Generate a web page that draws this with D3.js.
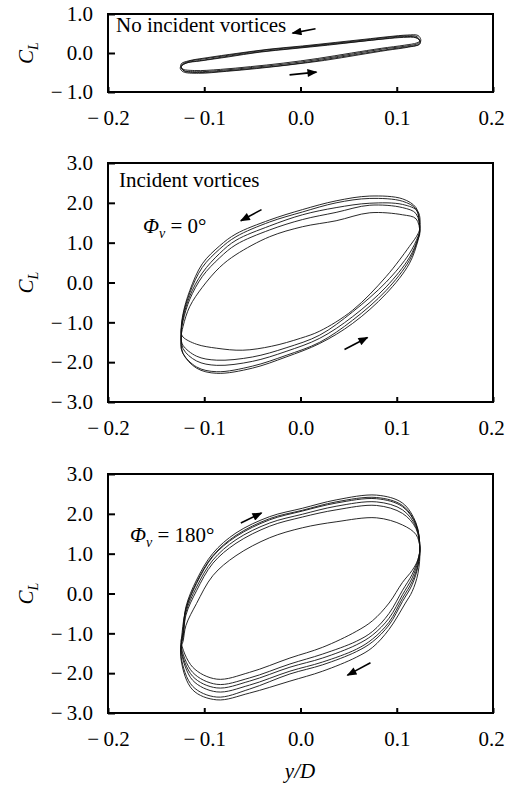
<!DOCTYPE html>
<html>
<head>
<meta charset="utf-8">
<script src="https://cdn.jsdelivr.net/npm/d3@7"></script>
<style>
  body { margin: 0; background: #fff; }
  text { font-family: "Liberation Serif", "Times New Roman", serif; fill: #000; }
</style>
</head>
<body>
<svg id="fig" width="505" height="786"></svg>
<script>
// axis ticks
const xTicks = [-0.2, -0.1, 0.0, 0.1, 0.2];
const yTicksTop = [-1, 0, 1];
const yTicksBig = [-3, -2, -1, 0, 1, 2, 3];

// [y/D, C_L] traces, one array per cycle
const loopsTop = [
  [[0.124,0.32],[0.121,0.42],[0.11,0.44],[0.09,0.4],[0.065,0.33],[0.035,0.25],[0.0,0.16],[-0.035,0.08],[-0.07,-0.04],[-0.1,-0.15],[-0.117,-0.22],[-0.124,-0.32],[-0.122,-0.44],[-0.108,-0.48],[-0.08,-0.44],[-0.05,-0.37],[-0.015,-0.28],[0.02,-0.16],[0.055,-0.02],[0.085,0.1],[0.11,0.18],[0.122,0.24]],
  [[0.124,0.3],[0.12,0.4],[0.108,0.42],[0.088,0.37],[0.062,0.3],[0.03,0.22],[-0.005,0.13],[-0.04,0.04],[-0.072,-0.07],[-0.1,-0.18],[-0.118,-0.25],[-0.124,-0.35],[-0.121,-0.46],[-0.105,-0.5],[-0.078,-0.46],[-0.048,-0.39],[-0.012,-0.3],[0.022,-0.18],[0.057,-0.04],[0.088,0.08],[0.111,0.16],[0.123,0.22]],
  [[0.125,0.34],[0.122,0.45],[0.111,0.46],[0.092,0.42],[0.066,0.35],[0.036,0.27],[0.002,0.18],[-0.032,0.1],[-0.066,-0.01],[-0.097,-0.12],[-0.116,-0.2],[-0.124,-0.28],[-0.123,-0.4],[-0.11,-0.45],[-0.083,-0.42],[-0.052,-0.35],[-0.018,-0.26],[0.018,-0.14],[0.053,0.0],[0.084,0.12],[0.108,0.2],[0.121,0.26]],
  [[0.124,0.31],[0.12,0.39],[0.107,0.4],[0.087,0.36],[0.06,0.29],[0.028,0.2],[-0.008,0.11],[-0.043,0.02],[-0.075,-0.1],[-0.103,-0.2],[-0.12,-0.27],[-0.125,-0.38],[-0.122,-0.48],[-0.106,-0.52],[-0.077,-0.47],[-0.046,-0.4],[-0.01,-0.3],[0.025,-0.19],[0.06,-0.05],[0.09,0.07],[0.112,0.15],[0.124,0.23]]
];

const loopsMid = [
  [[0.124,1.3],[0.123,1.6],[0.12,1.88],[0.106,2.1],[0.072,2.17],[0.037,2.05],[0.002,1.83],[-0.032,1.57],[-0.067,1.22],[-0.084,0.92],[-0.102,0.47],[-0.115,-0.2],[-0.122,-0.78],[-0.124,-1.2],
   [-0.122,-1.66],[-0.108,-1.97],[-0.087,-2.08],[-0.05,-1.98],[-0.015,-1.73],[0.02,-1.4],[0.054,-0.86],[0.089,-0.11],[0.113,0.62],[0.122,1.11]],
  [[0.124,1.35],[0.122,1.78],[0.106,1.96],[0.072,1.99],[0.037,1.88],[0.002,1.7],[-0.032,1.42],[-0.067,1.06],[-0.084,0.73],[-0.102,0.24],[-0.115,-0.34],[-0.122,-0.9],[-0.124,-1.35],
   [-0.123,-1.74],[-0.108,-2.12],[-0.087,-2.24],[-0.05,-2.1],[-0.015,-1.83],[0.02,-1.5],[0.054,-0.95],[0.089,-0.2],[0.113,0.55],[0.122,1.08]],
  [[0.124,1.25],[0.12,1.6],[0.106,1.7],[0.072,1.75],[0.037,1.55],[0.002,1.4],[-0.032,1.15],[-0.067,0.7],[-0.084,0.38],[-0.102,-0.12],[-0.115,-0.6],[-0.122,-1.1],[-0.124,-1.4],
   [-0.122,-1.58],[-0.108,-1.85],[-0.087,-1.95],[-0.05,-1.87],[-0.015,-1.64],[0.02,-1.32],[0.054,-0.74],[0.089,0.01],[0.113,0.72],[0.122,1.15]],
  [[0.124,1.3],[0.12,1.73],[0.106,1.88],[0.072,1.94],[0.037,1.76],[0.002,1.58],[-0.032,1.32],[-0.067,0.95],[-0.084,0.62],[-0.102,0.15],[-0.115,-0.42],[-0.122,-0.96],[-0.124,-1.25],
   [-0.122,-1.37],[-0.108,-1.55],[-0.087,-1.65],[-0.06,-1.7],[-0.03,-1.6],[0.0,-1.4],[0.02,-1.22],[0.054,-0.7],[0.089,0.15],[0.113,0.9],[0.122,1.22]],
  [[0.124,1.38],[0.12,1.84],[0.106,2.04],[0.072,2.11],[0.037,2.0],[0.002,1.77],[-0.032,1.52],[-0.067,1.15],[-0.084,0.84],[-0.102,0.38],[-0.115,-0.26],[-0.122,-0.83],[-0.124,-1.3],
   [-0.122,-1.78],[-0.108,-2.15],[-0.087,-2.28],[-0.05,-2.15],[-0.015,-1.87],[0.02,-1.53],[0.054,-1.03],[0.089,-0.28],[0.113,0.47],[0.122,1.05]]
];

const loopsBot = [
  [[-0.124,-1.3],[-0.122,-0.92],[-0.119,-0.33],[-0.108,0.34],[-0.091,1.01],[-0.067,1.52],[-0.032,1.93],[0.002,2.14],[0.037,2.35],[0.079,2.47],[0.106,2.27],[0.12,1.77],[0.124,1.17],
   [0.122,0.68],[0.116,0.22],[0.106,-0.2],[0.092,-0.79],[0.075,-1.21],[0.058,-1.46],[0.023,-1.79],[-0.011,-2.02],[-0.053,-2.4],[-0.087,-2.6],[-0.112,-2.33],[-0.124,-1.6]],
  [[-0.123,-0.98],[-0.119,-0.4],[-0.108,0.25],[-0.091,0.93],[-0.067,1.43],[-0.032,1.85],[0.002,2.07],[0.037,2.27],[0.079,2.38],[0.106,2.18],[0.12,1.72],[0.124,1.14],
   [0.122,0.8],[0.116,0.39],[0.106,-0.03],[0.092,-0.62],[0.075,-1.04],[0.058,-1.29],[0.023,-1.62],[-0.011,-1.85],[-0.053,-2.2],[-0.087,-2.37],[-0.112,-2.08],[-0.124,-1.37]],
  [[-0.122,-1.2],[-0.119,-0.8],[-0.108,-0.25],[-0.091,0.45],[-0.067,0.95],[-0.032,1.4],[0.002,1.65],[0.037,1.8],[0.079,1.9],[0.106,1.72],[0.12,1.48],[0.124,1.15],
   [0.122,0.85],[0.116,0.58],[0.106,0.28],[0.092,-0.24],[0.075,-0.68],[0.058,-0.95],[0.023,-1.35],[-0.011,-1.62],[-0.053,-1.98],[-0.087,-2.15],[-0.112,-1.85],[-0.124,-1.2]],
  [[-0.122,-1.05],[-0.119,-0.47],[-0.108,0.16],[-0.091,0.84],[-0.067,1.35],[-0.032,1.77],[0.002,1.99],[0.037,2.19],[0.079,2.3],[0.106,2.1],[0.12,1.67],[0.124,1.12],
   [0.122,0.5],[0.116,0.05],[0.109,-0.24],[0.092,-0.9],[0.075,-1.35],[0.058,-1.6],[0.023,-1.95],[-0.011,-2.2],[-0.053,-2.5],[-0.087,-2.67],[-0.112,-2.42],[-0.124,-1.67]],
  [[-0.122,-0.96],[-0.119,-0.38],[-0.108,0.28],[-0.091,0.95],[-0.067,1.46],[-0.032,1.88],[0.002,2.09],[0.037,2.3],[0.079,2.41],[0.106,2.21],[0.12,1.74],[0.124,1.15],
   [0.122,0.85],[0.116,0.48],[0.106,0.08],[0.092,-0.5],[0.075,-0.95],[0.058,-1.2],[0.023,-1.52],[-0.011,-1.77],[-0.053,-2.12],[-0.087,-2.28],[-0.112,-1.98],[-0.124,-1.3]],
  [[-0.122,-1.11],[-0.119,-0.54],[-0.108,0.07],[-0.091,0.76],[-0.067,1.26],[-0.032,1.69],[0.002,1.92],[0.037,2.1],[0.079,2.21],[0.106,2.01],[0.12,1.63],[0.124,1.09],
   [0.122,0.72],[0.116,0.3],[0.106,-0.12],[0.092,-0.72],[0.075,-1.14],[0.058,-1.4],[0.023,-1.72],[-0.011,-1.95],[-0.053,-2.3],[-0.087,-2.47],[-0.112,-2.18],[-0.124,-1.47]]
];

// direction arrows: [tail, head] in data units
const arrowsTop = [[[0.0156,0.62],[-0.0083,0.51]], [[-0.0114,-0.56],[0.0166,-0.49]]];
const arrowsMid = [[[-0.0405,1.83],[-0.062,1.55]], [[0.0457,-1.68],[0.0696,-1.38]]];
const arrowsBot = [[[-0.062,1.77],[-0.0405,2.02]], [[0.0727,-1.74],[0.0488,-2.05]]];

const left = 108, right = 493;
const panels = [
  { top: 14,  bottom: 92,  yDomain: [-1, 1], yTicks: yTicksTop, loops: loopsTop, arrows: arrowsTop },
  { top: 163, bottom: 402, yDomain: [-3, 3], yTicks: yTicksBig, loops: loopsMid, arrows: arrowsMid },
  { top: 474, bottom: 713, yDomain: [-3, 3], yTicks: yTicksBig, loops: loopsBot, arrows: arrowsBot }
];

const svg = d3.select("#fig");
const fs = 21;

const fmt = d => (d < 0 ? "\u2212\u2009" : "") + Math.abs(d).toFixed(1);

svg.append("defs").append("marker")
    .attr("id", "head")
    .attr("markerUnits", "userSpaceOnUse")
    .attr("viewBox", "0 0 10 8")
    .attr("refX", 9).attr("refY", 4)
    .attr("markerWidth", 11).attr("markerHeight", 8)
    .attr("orient", "auto")
  .append("path")
    .attr("d", "M0,0 L10,4 L0,8 Z")
    .attr("fill", "#000");

let x = d3.scaleLinear().domain([-0.2, 0.2]).range([left, right]);

panels.forEach(function(p, i) {
  let y = d3.scaleLinear().domain(p.yDomain).range([p.bottom, p.top]);
  let g = svg.append("g");

  let line = d3.line()
      .x(d => x(d[0]))
      .y(d => y(d[1]))
      .curve(d3.curveCatmullRom.alpha(0.5));

  let pts = d3.merge(p.loops);
  pts.push(p.loops[0][0]);

  g.append("path")
      .attr("d", line(pts))
      .attr("fill", "none")
      .attr("stroke", "#111")
      .attr("stroke-width", 0.9);

  // axes with inward ticks
  let ax = g.append("g")
      .attr("transform", "translate(0," + p.bottom + ")")
      .call(d3.axisBottom(x).tickValues(xTicks).tickFormat(fmt).tickSize(-5).tickPadding(18));
  let ay = g.append("g")
      .attr("transform", "translate(" + left + ",0)")
      .call(d3.axisLeft(y).tickValues(p.yTicks).tickFormat(fmt).tickSize(-7).tickPadding(15));

  [ax, ay].forEach(function(a) {
    a.attr("font-family", null);
    a.select(".domain").remove();
    a.selectAll("line").attr("stroke", "#000").attr("stroke-width", 2);
    a.selectAll("text").style("font-size", fs + "px")
      .style("font-family", "'Liberation Serif', serif").attr("fill", "#000");
  });
  // keep the last label inside the page
  ax.selectAll(".tick text").filter(d => d === 0.2).attr("dx", -2);

  g.append("rect")
      .attr("x", left).attr("y", p.top)
      .attr("width", right - left).attr("height", p.bottom - p.top)
      .attr("fill", "none").attr("stroke", "#000").attr("stroke-width", 2);

  g.selectAll(".arrow").data(p.arrows).enter().append("line")
      .attr("class", "arrow")
      .attr("x1", d => x(d[0][0])).attr("y1", d => y(d[0][1]))
      .attr("x2", d => x(d[1][0])).attr("y2", d => y(d[1][1]))
      .attr("stroke", "#000").attr("stroke-width", 1.6)
      .attr("marker-end", "url(#head)");

  // C_L label
  let cl = g.append("text")
      .attr("transform", "translate(33," + ((p.top + p.bottom) / 2) + ") rotate(-90)")
      .attr("text-anchor", "middle")
      .style("font-size", fs + "px").style("font-style", "italic");
  cl.append("tspan").text("C");
  cl.append("tspan").attr("dy", 5).style("font-size", "14px").text("L");
});

// panel annotations
function phi(xp, yp, deg) {
  let t = svg.append("text").attr("x", xp).attr("y", yp).style("font-size", fs + "px");
  t.append("tspan").style("font-style", "italic").text("\u03A6");
  t.append("tspan").attr("dy", 5).style("font-size", "14px").style("font-style", "italic").text("v");
  t.append("tspan").attr("dy", -5).text(" = " + deg + "\u00B0");
}

svg.append("text").attr("x", 116).attr("y", 32).style("font-size", fs + "px").text("No incident vortices");
svg.append("text").attr("x", 119).attr("y", 187).style("font-size", fs + "px").text("Incident vortices");
phi(143, 233, 0);
phi(130, 542, 180);

let xl = svg.append("text").attr("x", 300).attr("y", 778)
    .attr("text-anchor", "middle").style("font-size", fs + "px").style("font-style", "italic");
xl.text("y/D");
</script>
</body>
</html>
